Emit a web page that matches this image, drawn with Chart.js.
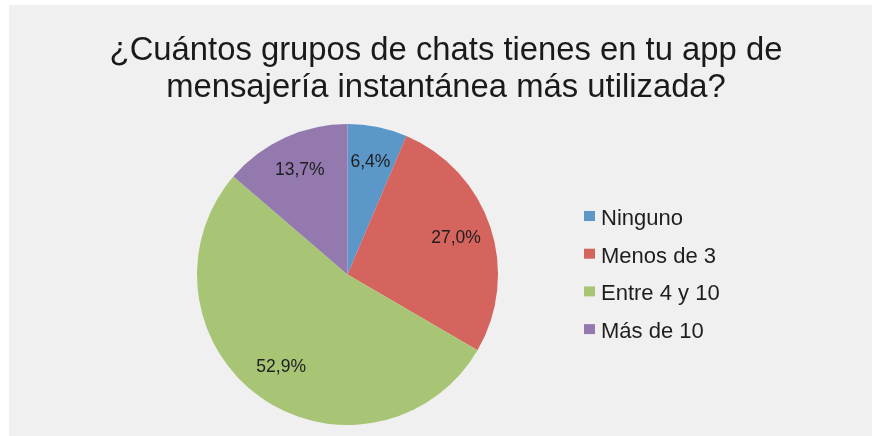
<!DOCTYPE html>
<html lang="es">
<head>
    <meta charset="UTF-8">
    <title>Grupos de chats</title>
    <script src="https://cdn.jsdelivr.net/npm/chart.js"></script>
    <style>
        html, body { margin: 0; padding: 0; background: #ffffff; }
        #wrap { position: absolute; left: 9px; top: 5px; width: 863px; height: 431px; background: #f0f0f0; }
    </style>
</head>
<body>
<div id="wrap">
    <canvas id="pieChart" width="863" height="431"></canvas>
</div>

<script>
// data
const titleLines = ['¿Cuántos grupos de chats tienes en tu app de', 'mensajería instantánea más utilizada?'];
const categories = ['Ninguno', 'Menos de 3', 'Entre 4 y 10', 'Más de 10'];
const percentages = [6.4, 27.0, 52.9, 13.7];
const sliceColors = ['#5b97c9', '#d5635e', '#a8c576', '#9479ae'];

const fontFamily = '"Liberation Sans", Arial, Helvetica, sans-serif';

// title, in-slice labels and legend drawn on the canvas
const textPlugin = {
    id: 'textPlugin',
    afterDraw(chart) {
        const ctx = chart.ctx;
        ctx.save();

        // title
        ctx.fillStyle = '#1a1a1a';
        ctx.font = '32.8px ' + fontFamily;
        ctx.textAlign = 'center';
        ctx.textBaseline = 'alphabetic';
        ctx.fillText(titleLines[0], 437, 55);
        ctx.fillText(titleLines[1], 437, 92);

        // percent labels inside slices
        const meta = chart.getDatasetMeta(0);
        ctx.font = '17.5px ' + fontFamily;
        ctx.textBaseline = 'middle';
        ctx.fillStyle = '#1e1e1e';
        meta.data.forEach((arc, i) => {
            const mid = (arc.startAngle + arc.endAngle) / 2;
            const r = arc.outerRadius * 0.76;
            const x = arc.x + Math.cos(mid) * r;
            const y = arc.y + Math.sin(mid) * r;
            ctx.fillText(percentages[i].toFixed(1).replace('.', ',') + '%', x, y);
        });

        // legend
        ctx.font = '22px ' + fontFamily;
        ctx.textAlign = 'left';
        ctx.textBaseline = 'alphabetic';
        categories.forEach((name, i) => {
            const base = 220 + i * 37.7;
            ctx.fillStyle = sliceColors[i];
            ctx.fillRect(575, base - 14, 11, 10);
            ctx.fillStyle = '#1e1e1e';
            ctx.fillText(name, 592, base);
        });

        ctx.restore();
    }
};

const ctx = document.getElementById('pieChart').getContext('2d');
new Chart(ctx, {
    type: 'pie',
    data: {
        labels: categories,
        datasets: [{
            data: percentages,
            backgroundColor: sliceColors,
            borderWidth: 0
        }]
    },
    options: {
        responsive: false,
        animation: false,
        layout: {
            padding: { top: 119, bottom: 11, left: 188, right: 374 }
        },
        plugins: {
            legend: { display: false },
            title: { display: false },
            tooltip: { enabled: false }
        }
    },
    plugins: [textPlugin]
});
</script>
</body>
</html>
